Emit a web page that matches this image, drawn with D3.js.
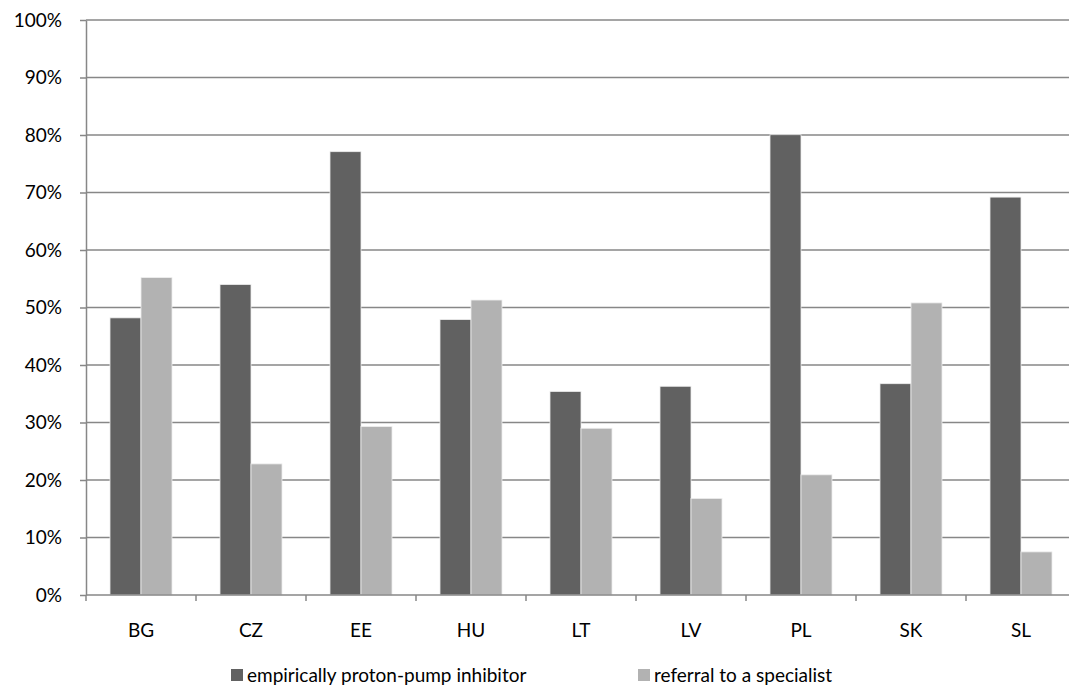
<!DOCTYPE html>
<meta charset="utf-8">
<style type="text/css">
body {
    margin: 0;
    background: #fff;
}

text {
    font-family: Lato, 'Noto Sans', sans-serif;
    font-size: 19px;
    fill: #000;
}

.grid line {
    stroke: #878787;
    stroke-width: 1.5;
}

.domain, .tick line {
    stroke: #878787;
    stroke-width: 1.5;
}
</style>

<body>
    <script src="https://d3js.org/d3.v7.min.js"></script>
    <script>
    // survey answers per country, share of respondents
    var countries = ["BG", "CZ", "EE", "HU", "LT", "LV", "PL", "SK", "SL"]
    var ppi = [48.2, 54.0, 77.1, 47.9, 35.4, 36.3, 80.05, 36.75, 69.2]
    var referral = [55.2, 22.8, 29.3, 51.3, 29.0, 16.8, 20.9, 50.8, 7.5]
    var seriesNames = ["empirically proton-pump inhibitor", "referral to a specialist"]
    var seriesColors = ["#616161", "#b2b2b2"]
    var yTicks = [0, 10, 20, 30, 40, 50, 60, 70, 80, 90, 100]

    var width = 1069
    var height = 691
    var plotLeft = 86, plotTop = 20, plotRight = 1076, plotBottom = 595

    var svg = d3.select('body').append('svg')
        .attr('width', width)
        .attr('height', height)

    var x0 = d3.scaleBand()
        .domain(countries)
        .range([plotLeft, plotRight])

    var x1 = d3.scaleBand()
        .domain([0, 1])
        .range([0, x0.bandwidth()])
        .paddingOuter(0.774)

    var y = d3.scaleLinear()
        .domain([0, 100])
        .range([plotBottom, plotTop])

    // horizontal gridlines
    svg.append('g')
        .attr('class', 'grid')
        .selectAll('line')
        .data(yTicks.slice(1))
        .enter()
        .append('line')
        .attr('x1', plotLeft)
        .attr('x2', plotRight)
        .attr('y1', d => y(d))
        .attr('y2', d => y(d))

    // y axis
    svg.append('g')
        .attr('transform', 'translate(' + plotLeft + ',0)')
        .call(d3.axisLeft(y).tickValues(yTicks).tickSize(6).tickSizeOuter(0).tickPadding(18)
            .tickFormat(d => d + '%'))
        .selectAll('text')
        .style('font-size', '19px')
        .style('font-family', "Lato, 'Noto Sans', sans-serif")

    var rows = countries.map((c, i) => ({ country: c, values: [ppi[i], referral[i]] }))

    var groups = svg.selectAll('.group')
        .data(rows)
        .enter()
        .append('g')
        .attr('class', 'group')
        .attr('transform', d => 'translate(' + x0(d.country) + ',0)')

    groups.selectAll('rect')
        .data(d => d.values.map((v, j) => ({ v: v, j: j })))
        .enter()
        .append('rect')
        .attr('x', d => x1(d.j))
        .attr('width', x1.bandwidth())
        .attr('y', d => y(d.v))
        .attr('height', d => plotBottom - y(d.v))
        .attr('fill', d => seriesColors[d.j])
        .attr('stroke', '#eeeeee')
        .attr('stroke-width', 0.8)

    // x axis, ticks sit on the band edges
    var xAxis = svg.append('g')
        .attr('transform', 'translate(0,' + plotBottom + ')')
    xAxis.append('line')
        .attr('class', 'domain')
        .attr('x1', plotLeft)
        .attr('x2', plotRight)
    xAxis.selectAll('.edge')
        .data(countries)
        .enter()
        .append('line')
        .attr('class', 'edge')
        .style('stroke', '#878787')
        .style('stroke-width', 1.5)
        .attr('x1', d => x0(d))
        .attr('x2', d => x0(d))
        .attr('y1', 0)
        .attr('y2', 6)
    xAxis.selectAll('.label')
        .data(countries)
        .enter()
        .append('text')
        .attr('class', 'label')
        .attr('x', d => x0(d) + x0.bandwidth() / 2)
        .attr('y', 42)
        .attr('text-anchor', 'middle')
        .text(d => d)

    // legend
    var legendX = [231, 638]
    var legend = svg.selectAll('.legend')
        .data(seriesNames)
        .enter()
        .append('g')
        .attr('class', 'legend')
        .attr('transform', (d, i) => 'translate(' + legendX[i] + ',669)')
    legend.append('rect')
        .attr('width', 12)
        .attr('height', 12)
        .attr('fill', (d, i) => seriesColors[i])
    legend.append('text')
        .attr('x', 16)
        .attr('y', 13)
        .text(d => d)
    </script>
</body>
